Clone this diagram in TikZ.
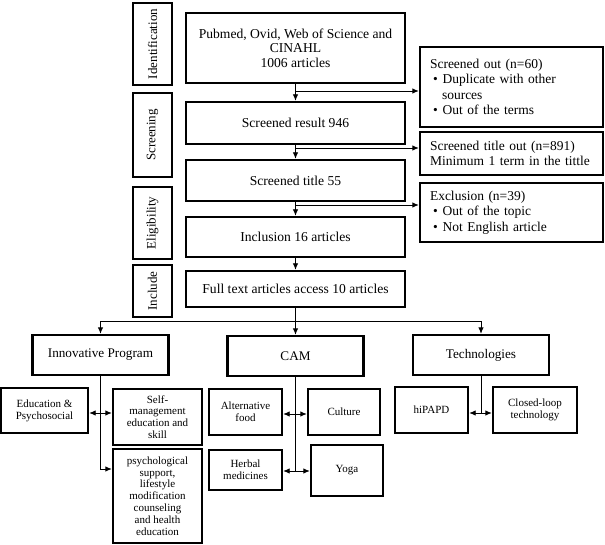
\documentclass[tikz,border=0pt]{standalone}
\usepackage{fontspec}
\setmainfont{Liberation Serif}
\usetikzlibrary{arrows.meta}
\usetikzlibrary{positioning}

\begin{document}
\begin{tikzpicture}[x=1pt,y=-1pt,
  box/.style={draw,line width=2.4pt,align=center,inner sep=2pt},
  stage/.style={draw,line width=2.4pt,rotate=90,minimum height=39pt,inner sep=1pt,font=\fontsize{13}{15}\selectfont},
  main/.style={box,minimum width=219pt,font=\fontsize{13.6}{14.5}\selectfont},
  side/.style={box,align=left,minimum width=183pt,text width=163pt,inner xsep=10pt,font=\fontsize{13.5}{15.5}\selectfont},
  grp/.style={box,minimum width=136pt,minimum height=40pt,font=\fontsize{13.2}{15}\selectfont},
  sub/.style={box,font=\fontsize{11}{11.8}\selectfont},
  ln/.style={line width=0.9pt},
  arr/.style={ln,-{Latex[length=6.5pt,width=5.5pt]}},
  dbl/.style={ln,{Latex[length=6.5pt,width=5.5pt]}-{Latex[length=6.5pt,width=5.5pt]}}]
\useasboundingbox (0,0) rectangle (605,545);

% stages
\node[stage,minimum width=82pt] (idf) at (152.5,44) {Identification};
\node[stage,minimum width=84pt] (scr) at (152.5,135) {Screening};
\node[stage,minimum width=72pt] (elg) at (152.5,223) {Eligibility};
\node[stage,minimum width=52pt] (inc) at (152.5,291) {Include};

% main column
\node[main,minimum height=70pt] (db) at (295.5,48) {Pubmed, Ovid, Web of Science and\\CINAHL\\1006 articles};
\node[main,minimum height=42pt] (res) at (295.5,123) {Screened result 946};
\node[main,minimum height=41pt] (ttl) at (295.5,180.5) {Screened title 55};
\node[main,minimum height=40pt] (incl) at (295.5,237) {Inclusion 16 articles};
\node[main,minimum height=36pt] (full) at (295.5,289) {Full text articles access 10 articles};

% removed records
\node[side,minimum height=80pt] (out1) at (511.5,87) {Screened out (n=60)\\
  \hspace*{3pt}\textbullet\hspace{5pt}Duplicate with other\\
  \hspace*{12pt}sources\\
  \hspace*{3pt}\textbullet\hspace{5pt}Out of the terms};
\node[side,minimum height=43pt] (out2) at (511.5,153.5) {Screened title out (n=891)\\Minimum 1 term in the tittle};
\node[side,minimum height=59pt] (out3) at (511.5,212.5) {Exclusion (n=39)\\
  \hspace*{3pt}\textbullet\hspace{5pt}Out of the topic\\
  \hspace*{3pt}\textbullet\hspace{5pt}Not English article};

\draw[arr] (db) -- (res);
\draw[arr] (res) -- (ttl);
\draw[arr] (ttl) -- (incl);
\draw[arr] (incl) -- (full);
\coordinate (b1) at (295.5,91);
\coordinate (b2) at (295.5,148);
\coordinate (b3) at (295.5,205);
\draw[arr] (b1) -- (b1 -| out1.west);
\draw[arr] (b2) -- (b2 -| out2.west);
\draw[arr] (b3) -- (b3 -| out3.west);

% groups
\node[grp] (inn) at (100.5,355) {Innovative Program};
\node[grp] (cam) at (295.5,356) {CAM};
\node[grp] (tech) at (481,355) {Technologies};

\coordinate (split) at (295.5,321);
\draw[ln] (full) -- (split);
\draw[arr] (split) -| (inn.north);
\draw[arr] (split) -- (cam.north);
\draw[arr] (split) -| (tech.north);

% innovative program
\node[sub,minimum width=87pt,minimum height=45pt] (edu) at (44.5,410.5) {Education \&\\Psychosocial};
\node[sub,minimum width=89pt,minimum height=56pt] (self) at (157.5,417) {Self-\\management\\education and\\skill};
\node[sub,minimum width=89pt,minimum height=94pt] (psy) at (157.5,496) {psychological\\support,\\lifestyle\\modification\\counseling\\and health\\education};
\coordinate (innA) at (100.5,413);
\coordinate (innB) at (100.5,469);
\draw[arr] (inn) -- (innB) -- (innB -| psy.west);
\draw[dbl] (innA -| edu.east) -- (innA -| self.west);

% CAM
\node[sub,minimum width=73pt,minimum height=46pt] (alt) at (245.5,412) {Alternative\\food};
\node[sub,minimum width=72pt,minimum height=46pt] (cul) at (344,412) {Culture};
\node[sub,minimum width=73pt,minimum height=40pt] (herb) at (245.5,470) {Herbal\\medicines};
\node[sub,minimum width=72pt,minimum height=51pt] (yoga) at (347,470.5) {Yoga};
\coordinate (camA) at (295.5,414);
\coordinate (camB) at (295.5,471);
\draw[ln] (cam) -- (camB);
\draw[dbl] (camA -| alt.east) -- (camA -| cul.west);
\draw[dbl] (camB -| herb.east) -- (camB -| yoga.west);

% technologies
\node[sub,minimum width=73pt,minimum height=46pt] (hip) at (431.5,410) {hiPAPD};
\node[sub,minimum width=84pt,minimum height=46pt] (clo) at (535,410) {Closed-loop\\technology};
\coordinate (techA) at (481,413);
\draw[ln] (tech) -- (techA);
\draw[dbl] (techA -| hip.east) -- (techA -| clo.west);

\end{tikzpicture}
\end{document}
